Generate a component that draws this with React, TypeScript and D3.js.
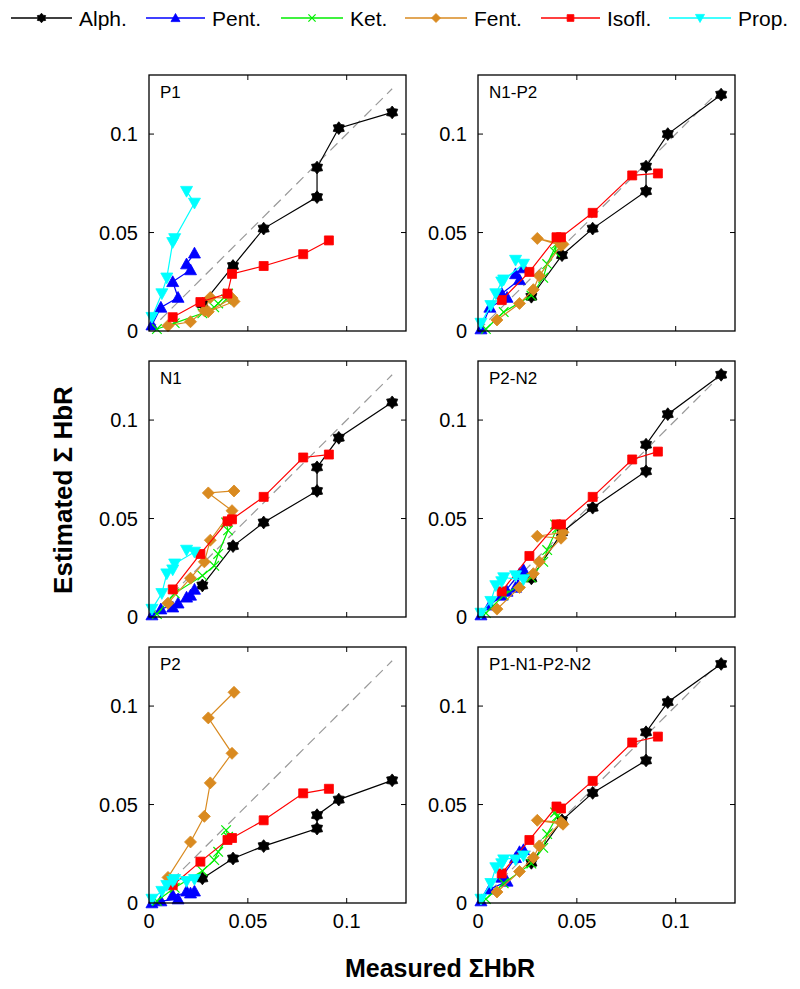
import React from "react";
import * as d3 from "d3";

// ---------- data ----------
const panelNames = ["P1", "N1-P2", "N1", "P2-N2", "P2", "P1-N1-P2-N2"];
const seriesNames = ["Alph.", "Pent.", "Ket.", "Fent.", "Isofl.", "Prop."];
const tickValues = [0, 0.05, 0.1];
const tickLabels = ["0", "0.05", "0.1"];

// measured x per series (shared by all panels)
const alphX = [0.027, 0.0425, 0.058, 0.085, 0.085, 0.096, 0.123];
const pentX = [0.0015, 0.006, 0.0147, 0.012, 0.021, 0.019, 0.023];
const ketX = [0.004, 0.013, 0.027, 0.033, 0.035, 0.04, 0.039];
const fentX = [0.0096, 0.021, 0.028, 0.031, 0.042, 0.03, 0.043];
const isoflX = [0.012, 0.026, 0.0397, 0.042, 0.058, 0.078, 0.091];
const propX = [0.0015, 0.0065, 0.009, 0.012, 0.013, 0.023, 0.019];

// estimated y per panel (order of panelNames)
const alphY = [
  [0.0137, 0.033, 0.052, 0.068, 0.083, 0.103, 0.111],
  [0.0174, 0.0385, 0.052, 0.071, 0.0835, 0.1, 0.12],
  [0.016, 0.036, 0.048, 0.064, 0.076, 0.091, 0.109],
  [0.0196, 0.043, 0.0555, 0.074, 0.0875, 0.103, 0.123],
  [0.0125, 0.0226, 0.0289, 0.0378, 0.0446, 0.0525, 0.0623],
  [0.0204, 0.042, 0.0559, 0.0724, 0.0867, 0.102, 0.1214],
];
const pentY = [
  [0.003, 0.012, 0.017, 0.025, 0.031, 0.034, 0.0395],
  [0.001, 0.012, 0.017, 0.019, 0.026, 0.029, 0.032],
  [0.001, 0.004, 0.007, 0.005, 0.011, 0.01, 0.014],
  [0.001, 0.006, 0.013, 0.011, 0.022, 0.015, 0.024],
  [0.0, 0.001, 0.002, 0.004, 0.005, 0.006, 0.006],
  [0.001, 0.007, 0.011, 0.013, 0.026, 0.023, 0.027],
];
const ketY = [
  [0.001, 0.004, 0.009, 0.012, 0.014, 0.019, 0.016],
  [0.001, 0.0096, 0.018, 0.027, 0.034, 0.0445, 0.04],
  [0.0015, 0.012, 0.021, 0.026, 0.032, 0.044, 0.048],
  [0.002, 0.011, 0.02, 0.028, 0.034, 0.045, 0.047],
  [0.001, 0.0077, 0.0163, 0.0218, 0.026, 0.0336, 0.037],
  [0.002, 0.01, 0.02, 0.028, 0.035, 0.044, 0.046],
];
const fentY = [
  [0.0027, 0.0047, 0.0103, 0.017, 0.0167, 0.0098, 0.015],
  [0.0056, 0.014, 0.021, 0.028, 0.0435, 0.047, 0.044],
  [0.007, 0.0197, 0.028, 0.039, 0.054, 0.063, 0.064],
  [0.004, 0.015, 0.022, 0.028, 0.04, 0.041, 0.043],
  [0.013, 0.031, 0.044, 0.061, 0.076, 0.094, 0.107],
  [0.0056, 0.016, 0.023, 0.029, 0.041, 0.042, 0.04],
];
const isoflY = [
  [0.007, 0.0147, 0.019, 0.029, 0.033, 0.039, 0.046],
  [0.0157, 0.03, 0.0476, 0.0476, 0.06, 0.079, 0.08],
  [0.014, 0.032, 0.0486, 0.0496, 0.061, 0.081, 0.0825],
  [0.013, 0.031, 0.047, 0.047, 0.061, 0.08, 0.084],
  [0.009, 0.021, 0.032, 0.033, 0.042, 0.0557, 0.058],
  [0.015, 0.032, 0.049, 0.048, 0.062, 0.0815, 0.0845],
];
const propY = [
  [0.007, 0.019, 0.027, 0.045, 0.047, 0.065, 0.071],
  [0.004, 0.013, 0.019, 0.025, 0.026, 0.034, 0.036],
  [0.004, 0.012, 0.022, 0.024, 0.027, 0.033, 0.034],
  [0.002, 0.008, 0.016, 0.018, 0.02, 0.019, 0.021],
  [0.002, 0.006, 0.009, 0.011, 0.012, 0.012, 0.011],
  [0.002, 0.01, 0.018, 0.02, 0.022, 0.024, 0.022],
];
const identityEnd = 0.123;

// ---------- styles / layout ----------
const FONT = "'Liberation Sans', Arial, Helvetica, sans-serif";
const colors = ["#000000", "#0000ff", "#00ee00", "#d98a20", "#ff0000", "#00ffff"];
const markerKinds = ["hex", "triUp", "x", "diamond", "square", "triDown"];
const seriesX = [alphX, pentX, ketX, fentX, isoflX, propX];
const seriesY = [alphY, pentY, ketY, fentY, isoflY, propY];

const colLeft = [149, 478];
const rowTop = [75, 361, 647];
const PW = 257;
const PH = 256;
const domain: [number, number] = [0, 0.13];

function markerPath(kind: string, s: number): string {
  if (kind === "hex") {
    const pts: [number, number][] = [];
    for (let i = 0; i < 12; i++) {
      const a = (Math.PI / 6) * i - Math.PI / 2;
      const r = i % 2 === 0 ? 6.4 * s : 4.3 * s;
      pts.push([r * Math.cos(a), r * Math.sin(a)]);
    }
    return d3.line()(pts)! + "Z";
  }
  if (kind === "triUp") {
    const r = 6 * s;
    return `M0,${-r}L${r},${r * 0.8}L${-r},${r * 0.8}Z`;
  }
  if (kind === "triDown") {
    const r = 6 * s;
    return `M0,${r}L${r},${-r * 0.8}L${-r},${-r * 0.8}Z`;
  }
  if (kind === "diamond") {
    const r = 6 * s;
    return `M0,${-r}L${r},0L0,${r}L${-r},0Z`;
  }
  if (kind === "square") {
    const r = 4.5 * s;
    return `M${-r},${-r}H${r}V${r}H${-r}Z`;
  }
  const r = 4.8 * s;
  return `M${-r},${-r}L${r},${r}M${-r},${r}L${r},${-r}`;
}

function Marker({ kind, color, x, y, s = 1 }: any) {
  const d = markerPath(kind, s);
  if (kind === "x") {
    return <path d={d} transform={`translate(${x},${y})`} stroke={color} strokeWidth={1.2} fill="none" />;
  }
  return <path d={d} transform={`translate(${x},${y})`} fill={color} stroke={color} strokeWidth={0.8} />;
}

function Panel({ idx }: { idx: number }) {
  const col = idx % 2;
  const row = Math.floor(idx / 2);
  const x0 = colLeft[col];
  const y0 = rowTop[row];
  const xs = d3.scaleLinear().domain(domain).range([x0, x0 + PW]);
  const ys = d3.scaleLinear().domain(domain).range([y0 + PH, y0]);
  const line = d3.line<[number, number]>().x((d) => xs(d[0])).y((d) => ys(d[1]));
  const tl = 5;
  return (
    <g>
      <rect x={x0} y={y0} width={PW} height={PH} fill="white" />
      <line
        x1={xs(0)}
        y1={ys(0)}
        x2={xs(identityEnd)}
        y2={ys(identityEnd)}
        stroke="#999"
        strokeWidth={1.2}
        strokeDasharray="10,6"
      />
      {seriesX.map((sx, si) => {
        const pts: [number, number][] = sx.map((v, i) => [v, seriesY[si][idx][i]]);
        return (
          <g key={si}>
            <path d={line(pts)!} fill="none" stroke={colors[si]} strokeWidth={1.2} />
            {pts.map((p, i) => (
              <Marker key={i} kind={markerKinds[si]} color={colors[si]} x={xs(p[0])} y={ys(p[1])} />
            ))}
          </g>
        );
      })}
      {tickValues.slice(1).map((t, i) => (
        <g key={"t" + i} stroke="black" strokeWidth={1}>
          <line x1={xs(t)} x2={xs(t)} y1={y0 + PH} y2={y0 + PH - tl} />
          <line x1={xs(t)} x2={xs(t)} y1={y0} y2={y0 + tl} />
          <line x1={x0} x2={x0 + tl} y1={ys(t)} y2={ys(t)} />
          <line x1={x0 + PW} x2={x0 + PW - tl} y1={ys(t)} y2={ys(t)} />
        </g>
      ))}
      <rect x={x0} y={y0} width={PW} height={PH} fill="none" stroke="black" strokeWidth={1.3} />
      {tickValues.map((t, i) => (
        <text
          key={"yl" + i}
          x={x0 - 11}
          y={ys(t)}
          textAnchor="end"
          dominantBaseline="central"
          fontSize={20}
          fontFamily={FONT}
        >
          {tickLabels[i]}
        </text>
      ))}
      {row === 2 &&
        tickValues.map((t, i) => (
          <text key={"xl" + i} x={xs(t)} y={y0 + PH + 18} textAnchor="middle" fontSize={20} fontFamily={FONT} dominantBaseline="central">
            {tickLabels[i]}
          </text>
        ))}
      <text x={x0 + 11} y={y0 + 23} fontSize={17} fontFamily={FONT}>
        {panelNames[idx]}
      </text>
    </g>
  );
}

const legendLine = [
  [11, 72],
  [146, 205],
  [281, 343],
  [405, 467],
  [541, 600],
  [669, 731],
];

export default function App() {
  return (
    <svg width={800} height={989} style={{ display: "block", position: "absolute", left: 0, top: 0, background: "white" }}>
      <rect width={800} height={989} fill="white" />
      {seriesNames.map((n, i) => {
        const [a, b] = legendLine[i];
        const cy = 18;
        return (
          <g key={n}>
            <line x1={a} x2={b} y1={cy} y2={cy} stroke={colors[i]} strokeWidth={1.5} />
            <Marker kind={markerKinds[i]} color={colors[i]} x={(a + b) / 2} y={cy} s={0.75} />
            <text x={b + 7} y={cy} dominantBaseline="central" fontSize={21} fontFamily={FONT}>
              {n}
            </text>
          </g>
        );
      })}
      {panelNames.map((_, i) => (
        <Panel key={i} idx={i} />
      ))}
      <text
        transform="translate(63,490) rotate(-90)"
        textAnchor="middle"
        dominantBaseline="central"
        fontSize={26}
        fontWeight="bold"
        fontFamily={FONT}
      >
        Estimated Σ HbR
      </text>
      <text x={440} y={968} textAnchor="middle" dominantBaseline="central" fontSize={25} fontWeight="bold" fontFamily={FONT}>
        Measured ΣHbR
      </text>
    </svg>
  );
}
